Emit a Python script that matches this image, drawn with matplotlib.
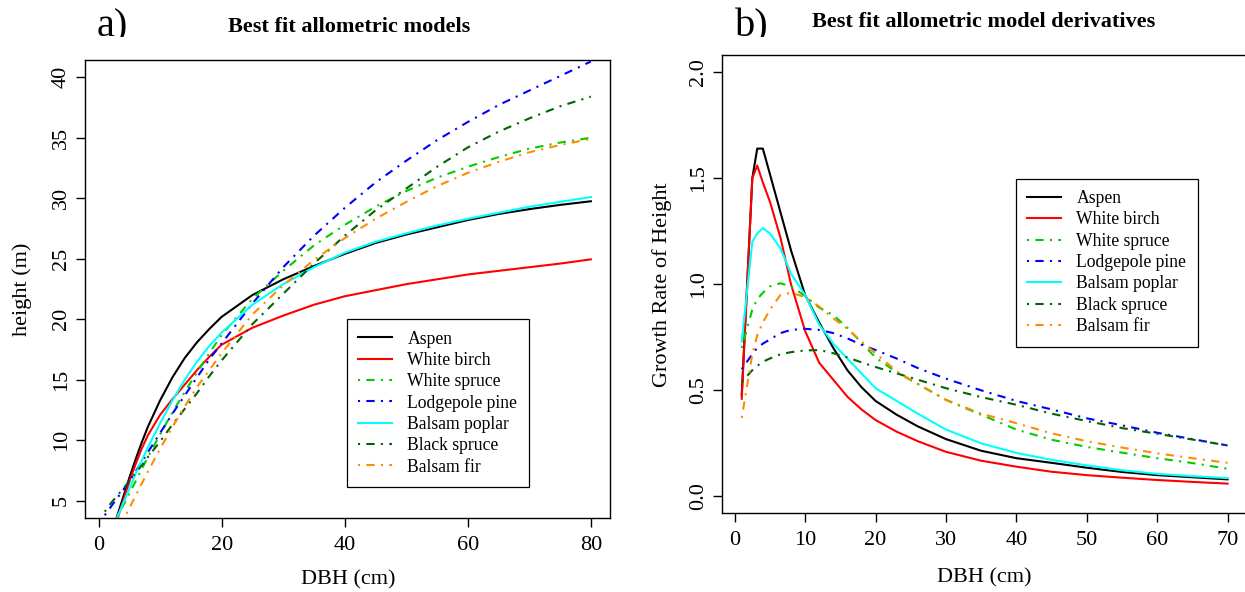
"""
Allometric height models and their derivatives
==============================================
"""
import numpy as np
import matplotlib as mpl
mpl.use('Agg')
import matplotlib.pyplot as plt
from matplotlib.transforms import Bbox, TransformedBbox

#---------------------------------------------------------------------------------------------------
# Global Parameters
#---------------------------------------------------------------------------------------------------

mpl.rcParams['font.family'] = ['Liberation Serif', 'DejaVu Serif']
mpl.rcParams['axes.linewidth'] = 1.0

W, H = 1245, 592   # output size in pixels

SPECIES = ['Aspen', 'White birch', 'White spruce', 'Lodgepole pine',
           'Balsam poplar', 'Black spruce', 'Balsam fir']
COLORS = ['#000000', '#FF0000', '#00CD00', '#0000FF', '#00FFFF', '#006400', '#FF8C00']
DOTDASH = (0, (1, 3, 4, 3))
STYLES = ['-', '-', DOTDASH, DOTDASH, '-', DOTDASH, DOTDASH]

#---------------------------------------------------------------------------------------------------
# Data
#---------------------------------------------------------------------------------------------------

# a) fitted height (m) against DBH (cm)
dbh_a = [1, 2, 3, 4, 5, 6, 7, 8, 10, 12, 14, 16, 18, 20, 25, 30, 35, 40, 45, 50, 55, 60, 65, 70, 75, 80]
h_aspen = [0.6, 2.1, 3.7, 5.3, 6.9, 8.4, 9.8, 11.1, 13.3, 15.2, 16.8, 18.1, 19.2, 20.2, 22.0, 23.3,
           24.4, 25.4, 26.3, 27.0, 27.6, 28.2, 28.7, 29.1, 29.45, 29.75]
h_white_birch = [0.8, 2.0, 3.4, 5.0, 6.6, 8.0, 9.3, 10.4, 12.1, 13.4, 14.6, 15.8, 16.9, 17.9, 19.3, 20.3,
                 21.2, 21.9, 22.4, 22.9, 23.3, 23.7, 24.0, 24.3, 24.6, 24.95]
h_white_spruce = [2.2, 2.9, 3.7, 4.6, 5.6, 6.6, 7.6, 8.6, 10.5, 12.3, 14.0, 15.6, 17.2, 18.7, 21.7, 24.0,
                  26.1, 27.8, 29.3, 30.6, 31.7, 32.6, 33.4, 34.1, 34.6, 35.0]
h_lodgepole = [3.8, 4.5, 5.2, 5.9, 6.6, 7.4, 8.2, 9.0, 10.6, 12.2, 13.7, 15.2, 16.7, 18.0, 21.3, 24.3,
               26.9, 29.2, 31.3, 33.1, 34.8, 36.3, 37.7, 38.9, 40.1, 41.3]
h_balsam_poplar = [1.2, 2.4, 3.6, 4.8, 6.0, 7.2, 8.3, 9.4, 11.4, 13.3, 15.0, 16.5, 17.8, 18.9, 21.2, 22.9,
                   24.3, 25.5, 26.4, 27.1, 27.75, 28.3, 28.8, 29.3, 29.7, 30.1]
h_black_spruce = [4.1, 4.8, 5.4, 6.0, 6.6, 7.3, 7.9, 8.6, 9.9, 11.3, 12.6, 13.9, 15.3, 16.6, 19.6, 22.1,
                  24.6, 26.9, 29.0, 30.8, 32.6, 34.2, 35.5, 36.6, 37.6, 38.4]
h_balsam_fir = [0.6, 1.5, 2.4, 3.4, 4.4, 5.4, 6.4, 7.4, 9.3, 11.1, 12.8, 14.4, 15.8, 17.2, 20.4, 22.8,
                24.9, 26.7, 28.3, 29.7, 31.0, 32.1, 33.0, 33.8, 34.4, 34.9]

# b) growth rate of height against DBH (cm)
dbh_b = [1, 2.5, 3.2, 4, 5, 6.5, 8, 10, 12, 14, 16, 18, 20, 23, 26, 30, 35, 40, 45, 50, 55, 60, 65, 70]
g_aspen = [0.48, 1.50, 1.64, 1.64, 1.52, 1.34, 1.16, 0.95, 0.82, 0.70, 0.595, 0.515, 0.45, 0.385,
           0.33, 0.27, 0.215, 0.18, 0.158, 0.135, 0.115, 0.10, 0.09, 0.08]
g_white_birch = [0.46, 1.50, 1.56, 1.48, 1.39, 1.22, 1.00, 0.78, 0.63, 0.55, 0.47, 0.41, 0.36, 0.305,
                 0.26, 0.21, 0.168, 0.14, 0.116, 0.10, 0.088, 0.077, 0.068, 0.06]
g_white_spruce = [0.70, 0.88, 0.93, 0.96, 0.99, 1.005, 0.99, 0.945, 0.89, 0.855, 0.795, 0.725, 0.655,
                  0.585, 0.53, 0.455, 0.385, 0.315, 0.267, 0.233, 0.206, 0.18, 0.157, 0.13]
g_lodgepole = [0.60, 0.67, 0.70, 0.72, 0.74, 0.77, 0.785, 0.79, 0.785, 0.77, 0.745, 0.715, 0.69, 0.65,
               0.605, 0.555, 0.50, 0.45, 0.41, 0.368, 0.335, 0.30, 0.27, 0.24]
g_balsam_poplar = [0.73, 1.20, 1.24, 1.265, 1.24, 1.17, 1.05, 0.95, 0.81, 0.72, 0.65, 0.58, 0.51, 0.45,
                   0.39, 0.315, 0.25, 0.205, 0.172, 0.146, 0.123, 0.106, 0.095, 0.086]
g_black_spruce = [0.54, 0.595, 0.615, 0.635, 0.65, 0.67, 0.68, 0.688, 0.69, 0.675, 0.655, 0.632, 0.61,
                  0.58, 0.55, 0.51, 0.468, 0.432, 0.39, 0.355, 0.322, 0.295, 0.268, 0.24]
g_balsam_fir = [0.37, 0.67, 0.76, 0.82, 0.88, 0.95, 0.96, 0.94, 0.895, 0.84, 0.79, 0.73, 0.675, 0.59,
                0.53, 0.455, 0.39, 0.345, 0.297, 0.26, 0.23, 0.203, 0.18, 0.158]

heights = [h_aspen, h_white_birch, h_white_spruce, h_lodgepole, h_balsam_poplar, h_black_spruce, h_balsam_fir]
rates = [g_aspen, g_white_birch, g_white_spruce, g_lodgepole, g_balsam_poplar, g_black_spruce, g_balsam_fir]

#---------------------------------------------------------------------------------------------------
# Helpers
#---------------------------------------------------------------------------------------------------

# pixel box (left, top, right, bottom) -> figure fraction rect
def px_rect(l, t, r, b):
    return [l / W, 1 - b / H, (r - l) / W, (b - t) / H]


def style_axes(ax):
    ax.tick_params(axis='both', direction='out', length=6.5, width=1.0, labelsize=16, pad=4)
    ax.tick_params(axis='x', pad=6.5)
    ax.tick_params(axis='y', labelrotation=90)
    for lab in ax.get_yticklabels():
        lab.set_va('center')


def draw_panel(ax, x, series, legend_xy):
    for y, name, col, ls in zip(series, SPECIES, COLORS, STYLES):
        ax.plot(x, y, color=col, linestyle=ls, lw=1.5, label=name)
    leg = ax.legend(loc='upper left', bbox_to_anchor=legend_xy, borderaxespad=0,
                    fontsize=12.7, frameon=True, fancybox=False, framealpha=1,
                    edgecolor='black', handlelength=1.9, handletextpad=0.89,
                    labelspacing=0.245, borderpad=0.65)
    leg.get_frame().set_linewidth(0.9)
    return leg


def panel_tag(fig, x, y_base, text):
    t = fig.text(x / W, 1 - y_base / H, text, fontsize=29, ha='left', va='baseline')
    # the tag is cut off just under its baseline in the original
    t.set_clip_box(TransformedBbox(Bbox([[0, 1 - (y_base + 0.8) / H], [1, 1]]), fig.transFigure))
    t.set_clip_on(True)
    return t

#---------------------------------------------------------------------------------------------------
# Figure
#---------------------------------------------------------------------------------------------------

fig = plt.figure(figsize=(W / 100, H / 100), dpi=100)

# a) height models
ax1 = fig.add_axes(px_rect(85.3, 60.3, 610.3, 517.7))
draw_panel(ax1, dbh_a, heights, (0.498, 0.434))
ax1.set_xlim(-2.16, 83.16)
ax1.set_ylim(3.6, 41.4)
ax1.set_xticks([0, 20, 40, 60, 80])
ax1.set_yticks([5, 10, 15, 20, 25, 30, 35, 40])
style_axes(ax1)
ax1.set_xlabel('DBH (cm)', fontsize=16, va='baseline')
ax1.xaxis.set_label_coords(0.5, -0.145)
ax1.set_ylabel('height (m)', fontsize=16, va='center')
ax1.yaxis.set_label_coords(-0.12, 0.5)

# b) derivatives
ax2 = fig.add_axes(px_rect(722.3, 55.3, 1247.0, 513.3))
draw_panel(ax2, dbh_b, rates, (0.5594, 0.7306))
ax2.set_xlim(-1.76, 72.76)
ax2.set_ylim(-0.08, 2.08)
ax2.set_xticks(np.arange(0, 71, 10))
ax2.set_yticks([0.0, 0.5, 1.0, 1.5, 2.0])
ax2.set_yticklabels(['0.0', '0.5', '1.0', '1.5', '2.0'])
style_axes(ax2)
ax2.set_xlabel('DBH (cm)', fontsize=16, va='baseline')
ax2.xaxis.set_label_coords(0.5, -0.151)
ax2.set_ylabel('Growth Rate of Height', fontsize=16, va='center')
ax2.yaxis.set_label_coords(-0.114, 0.5)

# titles and panel tags
fig.text(349.5 / W, 1 - 32.3 / H, 'Best fit allometric models', fontsize=16, fontweight='bold',
         ha='center', va='baseline')
fig.text(984 / W, 1 - 27.3 / H, 'Best fit allometric model derivatives', fontsize=16,
         fontweight='bold', ha='center', va='baseline')
panel_tag(fig, 97, 36.5, 'a)')
panel_tag(fig, 735, 36.5, 'b)')

fig.savefig('out.png', dpi=100)
